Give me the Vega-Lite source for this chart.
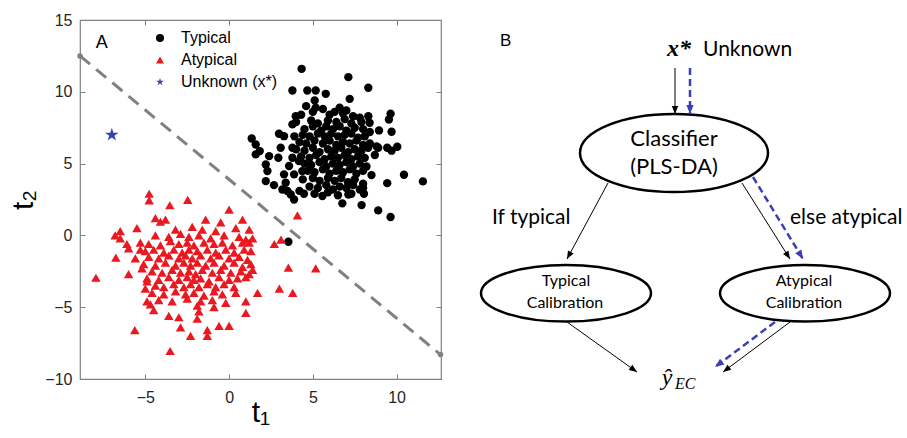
{
 "$schema": "https://vega.github.io/schema/vega-lite/v6.json",
 "background": "white",
 "padding": {"left": 8, "top": 11, "right": 0, "bottom": 0},
 "spacing": 12,
 "config": {"font": "Liberation Sans", "view": {"stroke": "#808080", "strokeWidth": 1.2}},
 "datasets": {
  "pts": [
   {"t1":4.33,"t2":11.6,"c":"Typical"},{"t1":7.12,"t2":11.02,"c":"Typical"},{"t1":8.31,"t2":10.28,"c":"Typical"},{"t1":3.78,"t2":10.09,"c":"Typical"},{"t1":4.67,"t2":10.09,"c":"Typical"},{"t1":5.17,"t2":10.09,"c":"Typical"},{"t1":5.77,"t2":9.86,"c":"Typical"},{"t1":5.11,"t2":9.4,"c":"Typical"},{"t1":5.17,"t2":8.9,"c":"Typical"},{"t1":7.2,"t2":9.51,"c":"Typical"},{"t1":3.98,"t2":8.3,"c":"Typical"},{"t1":3.78,"t2":7.73,"c":"Typical"},{"t1":9.64,"t2":8.47,"c":"Typical"},{"t1":9.54,"t2":8.07,"c":"Typical"},{"t1":8.31,"t2":8.3,"c":"Typical"},{"t1":8.39,"t2":7.84,"c":"Typical"},{"t1":8.95,"t2":7.31,"c":"Typical"},{"t1":9.7,"t2":7.22,"c":"Typical"},{"t1":10.04,"t2":6.17,"c":"Typical"},{"t1":9.44,"t2":6.1,"c":"Typical"},{"t1":9.7,"t2":5.9,"c":"Typical"},{"t1":8.9,"t2":6.1,"c":"Typical"},{"t1":8.7,"t2":5.6,"c":"Typical"},{"t1":10.44,"t2":4.22,"c":"Typical"},{"t1":11.57,"t2":3.76,"c":"Typical"},{"t1":9.44,"t2":3.64,"c":"Typical"},{"t1":8.9,"t2":1.74,"c":"Typical"},{"t1":9.64,"t2":1.28,"c":"Typical"},{"t1":7.91,"t2":2.11,"c":"Typical"},{"t1":6.76,"t2":2.23,"c":"Typical"},{"t1":5.57,"t2":2.74,"c":"Typical"},{"t1":7.12,"t2":2.85,"c":"Typical"},{"t1":4.47,"t2":2.9,"c":"Typical"},{"t1":3.88,"t2":2.5,"c":"Typical"},{"t1":8.05,"t2":2.9,"c":"Typical"},{"t1":8.5,"t2":4.2,"c":"Typical"},{"t1":8.0,"t2":3.3,"c":"Typical"},{"t1":3.54,"t2":-0.44,"c":"Typical"},{"t1":1.35,"t2":6.75,"c":"Typical"},{"t1":1.59,"t2":6.33,"c":"Typical"},{"t1":1.83,"t2":5.87,"c":"Typical"},{"t1":1.59,"t2":5.64,"c":"Typical"},{"t1":2.39,"t2":5.52,"c":"Typical"},{"t1":2.94,"t2":5.41,"c":"Typical"},{"t1":2.98,"t2":7.08,"c":"Typical"},{"t1":3.28,"t2":6.91,"c":"Typical"},{"t1":3.08,"t2":6.1,"c":"Typical"},{"t1":3.78,"t2":6.1,"c":"Typical"},{"t1":3.78,"t2":5.41,"c":"Typical"},{"t1":3.58,"t2":4.83,"c":"Typical"},{"t1":2.19,"t2":4.94,"c":"Typical"},{"t1":2.29,"t2":4.48,"c":"Typical"},{"t1":2.19,"t2":3.78,"c":"Typical"},{"t1":2.68,"t2":3.5,"c":"Typical"},{"t1":3.28,"t2":4.25,"c":"Typical"},{"t1":3.38,"t2":3.67,"c":"Typical"},{"t1":3.18,"t2":3.2,"c":"Typical"},{"t1":3.48,"t2":3.09,"c":"Typical"},{"t1":3.68,"t2":2.85,"c":"Typical"},{"t1":3.88,"t2":4.25,"c":"Typical"},{"t1":4.37,"t2":4.48,"c":"Typical"},{"t1":4.17,"t2":5.17,"c":"Typical"},
   {"t1":4.6,"t2":9.0,"c":"Typical"},{"t1":5.6,"t2":8.8,"c":"Typical"},{"t1":6.6,"t2":8.9,"c":"Typical"},{"t1":7.0,"t2":8.7,"c":"Typical"},{"t1":6.3,"t2":8.6,"c":"Typical"},
   {"t1":4.3,"t2":8.4,"c":"Typical"},{"t1":5.0,"t2":8.6,"c":"Typical"},{"t1":6.0,"t2":8.4,"c":"Typical"},{"t1":6.8,"t2":8.5,"c":"Typical"},{"t1":7.4,"t2":8.3,"c":"Typical"},{"t1":7.8,"t2":8.2,"c":"Typical"},
   {"t1":4.0,"t2":7.9,"c":"Typical"},{"t1":4.9,"t2":8.0,"c":"Typical"},{"t1":5.3,"t2":7.8,"c":"Typical"},{"t1":5.9,"t2":8.0,"c":"Typical"},{"t1":6.4,"t2":7.9,"c":"Typical"},{"t1":6.9,"t2":8.1,"c":"Typical"},{"t1":7.3,"t2":7.8,"c":"Typical"},{"t1":7.9,"t2":7.9,"c":"Typical"},
   {"t1":4.5,"t2":7.4,"c":"Typical"},{"t1":5.0,"t2":7.6,"c":"Typical"},{"t1":5.5,"t2":7.3,"c":"Typical"},{"t1":5.8,"t2":7.6,"c":"Typical"},{"t1":6.2,"t2":7.4,"c":"Typical"},{"t1":6.6,"t2":7.6,"c":"Typical"},{"t1":7.0,"t2":7.3,"c":"Typical"},{"t1":7.5,"t2":7.5,"c":"Typical"},{"t1":8.0,"t2":7.4,"c":"Typical"},{"t1":8.4,"t2":7.2,"c":"Typical"},
   {"t1":3.9,"t2":6.9,"c":"Typical"},{"t1":4.4,"t2":7.0,"c":"Typical"},{"t1":4.8,"t2":6.9,"c":"Typical"},{"t1":5.3,"t2":7.1,"c":"Typical"},{"t1":5.7,"t2":6.9,"c":"Typical"},{"t1":6.1,"t2":7.1,"c":"Typical"},{"t1":6.5,"t2":6.9,"c":"Typical"},{"t1":6.9,"t2":7.0,"c":"Typical"},{"t1":7.3,"t2":7.1,"c":"Typical"},{"t1":7.7,"t2":6.8,"c":"Typical"},{"t1":8.1,"t2":6.9,"c":"Typical"},
   {"t1":4.2,"t2":6.5,"c":"Typical"},{"t1":4.6,"t2":6.4,"c":"Typical"},{"t1":5.1,"t2":6.6,"c":"Typical"},{"t1":5.6,"t2":6.4,"c":"Typical"},{"t1":6.0,"t2":6.6,"c":"Typical"},{"t1":6.4,"t2":6.3,"c":"Typical"},{"t1":6.8,"t2":6.5,"c":"Typical"},{"t1":7.2,"t2":6.4,"c":"Typical"},{"t1":7.6,"t2":6.6,"c":"Typical"},{"t1":8.0,"t2":6.3,"c":"Typical"},{"t1":8.4,"t2":6.4,"c":"Typical"},{"t1":8.8,"t2":6.2,"c":"Typical"},
   {"t1":4.0,"t2":6.0,"c":"Typical"},{"t1":4.5,"t2":5.9,"c":"Typical"},{"t1":5.0,"t2":6.1,"c":"Typical"},{"t1":5.4,"t2":5.8,"c":"Typical"},{"t1":5.9,"t2":6.0,"c":"Typical"},{"t1":6.3,"t2":5.9,"c":"Typical"},{"t1":6.7,"t2":6.1,"c":"Typical"},{"t1":7.1,"t2":5.8,"c":"Typical"},{"t1":7.5,"t2":6.0,"c":"Typical"},{"t1":7.9,"t2":5.9,"c":"Typical"},{"t1":8.3,"t2":6.1,"c":"Typical"},
   {"t1":4.3,"t2":5.5,"c":"Typical"},{"t1":4.8,"t2":5.4,"c":"Typical"},{"t1":5.2,"t2":5.6,"c":"Typical"},{"t1":5.7,"t2":5.3,"c":"Typical"},{"t1":6.1,"t2":5.5,"c":"Typical"},{"t1":6.5,"t2":5.4,"c":"Typical"},{"t1":6.9,"t2":5.6,"c":"Typical"},{"t1":7.3,"t2":5.3,"c":"Typical"},{"t1":7.7,"t2":5.5,"c":"Typical"},{"t1":8.1,"t2":5.4,"c":"Typical"},
   {"t1":4.5,"t2":5.0,"c":"Typical"},{"t1":4.9,"t2":4.9,"c":"Typical"},{"t1":5.4,"t2":5.1,"c":"Typical"},{"t1":5.8,"t2":4.8,"c":"Typical"},{"t1":6.2,"t2":5.0,"c":"Typical"},{"t1":6.6,"t2":4.9,"c":"Typical"},{"t1":7.0,"t2":5.1,"c":"Typical"},{"t1":7.4,"t2":4.8,"c":"Typical"},{"t1":7.8,"t2":5.0,"c":"Typical"},{"t1":8.2,"t2":4.8,"c":"Typical"},
   {"t1":4.7,"t2":4.5,"c":"Typical"},{"t1":5.1,"t2":4.4,"c":"Typical"},{"t1":5.6,"t2":4.6,"c":"Typical"},{"t1":6.0,"t2":4.3,"c":"Typical"},{"t1":6.4,"t2":4.5,"c":"Typical"},{"t1":6.8,"t2":4.4,"c":"Typical"},{"t1":7.2,"t2":4.6,"c":"Typical"},{"t1":7.6,"t2":4.3,"c":"Typical"},{"t1":8.0,"t2":4.5,"c":"Typical"},
   {"t1":4.4,"t2":3.9,"c":"Typical"},{"t1":5.0,"t2":4.0,"c":"Typical"},{"t1":5.4,"t2":3.8,"c":"Typical"},{"t1":5.9,"t2":4.0,"c":"Typical"},{"t1":6.3,"t2":3.8,"c":"Typical"},{"t1":6.7,"t2":4.0,"c":"Typical"},{"t1":7.1,"t2":3.7,"c":"Typical"},{"t1":7.5,"t2":3.9,"c":"Typical"},{"t1":8.0,"t2":3.6,"c":"Typical"},
   {"t1":4.8,"t2":3.4,"c":"Typical"},{"t1":5.3,"t2":3.3,"c":"Typical"},{"t1":5.8,"t2":3.5,"c":"Typical"},{"t1":6.2,"t2":3.2,"c":"Typical"},{"t1":6.6,"t2":3.4,"c":"Typical"},{"t1":7.0,"t2":3.3,"c":"Typical"},{"t1":7.4,"t2":3.5,"c":"Typical"},{"t1":7.8,"t2":3.2,"c":"Typical"},
   {"t1":4.2,"t2":3.1,"c":"Typical"},{"t1":5.1,"t2":2.9,"c":"Typical"},{"t1":5.9,"t2":3.0,"c":"Typical"},{"t1":6.5,"t2":2.8,"c":"Typical"},{"t1":7.3,"t2":2.9,"c":"Typical"},
   {"t1":-7.95,"t2":-2.95,"c":"Atypical"},{"t1":-4.77,"t2":2.9,"c":"Atypical"},{"t1":-4.77,"t2":2.44,"c":"Atypical"},{"t1":-3.54,"t2":2.1,"c":"Atypical"},{"t1":-2.47,"t2":2.48,"c":"Atypical"},{"t1":0.0,"t2":1.8,"c":"Atypical"},{"t1":4.08,"t2":1.39,"c":"Atypical"},{"t1":-4.4,"t2":1.2,"c":"Atypical"},{"t1":-4.1,"t2":0.95,"c":"Atypical"},{"t1":-3.8,"t2":1.1,"c":"Atypical"},{"t1":-1.4,"t2":1.1,"c":"Atypical"},{"t1":-6.5,"t2":0.3,"c":"Atypical"},{"t1":-6.8,"t2":0.0,"c":"Atypical"},{"t1":-6.5,"t2":-0.2,"c":"Atypical"},{"t1":-5.5,"t2":0.5,"c":"Atypical"},{"t1":-6.1,"t2":-0.6,"c":"Atypical"},{"t1":-6.0,"t2":-0.9,"c":"Atypical"},{"t1":-1.6,"t2":0.4,"c":"Atypical"},{"t1":0.8,"t2":1.1,"c":"Atypical"},{"t1":1.2,"t2":0.4,"c":"Atypical"},{"t1":1.4,"t2":-0.2,"c":"Atypical"},{"t1":1.2,"t2":-0.5,"c":"Atypical"},{"t1":2.7,"t2":-0.6,"c":"Atypical"},{"t1":3.1,"t2":-0.3,"c":"Atypical"},{"t1":-6.76,"t2":-1.55,"c":"Atypical"},{"t1":-5.6,"t2":-1.6,"c":"Atypical"},{"t1":-5.2,"t2":-2.3,"c":"Atypical"},{"t1":-6.0,"t2":-2.7,"c":"Atypical"},{"t1":3.54,"t2":-2.25,"c":"Atypical"},{"t1":5.17,"t2":-2.3,"c":"Atypical"},{"t1":3.0,"t2":-3.7,"c":"Atypical"},{"t1":3.8,"t2":-4.0,"c":"Atypical"},{"t1":1.7,"t2":-4.0,"c":"Atypical"},{"t1":1.0,"t2":-4.6,"c":"Atypical"},{"t1":1.0,"t2":-5.4,"c":"Atypical"},{"t1":-5.63,"t2":-6.59,"c":"Atypical"},{"t1":-3.52,"t2":-8.05,"c":"Atypical"},{"t1":-2.3,"t2":-7.0,"c":"Atypical"},{"t1":-1.3,"t2":-7.0,"c":"Atypical"},{"t1":-1.3,"t2":-6.6,"c":"Atypical"},{"t1":-0.6,"t2":-6.3,"c":"Atypical"},{"t1":0.0,"t2":-6.3,"c":"Atypical"},{"t1":-2.9,"t2":-6.4,"c":"Atypical"},{"t1":-3.0,"t2":-5.7,"c":"Atypical"},{"t1":-3.6,"t2":-5.6,"c":"Atypical"},{"t1":-1.9,"t2":-5.8,"c":"Atypical"},{"t1":-1.8,"t2":-5.3,"c":"Atypical"},{"t1":-1.9,"t2":-4.9,"c":"Atypical"},{"t1":-0.9,"t2":-5.0,"c":"Atypical"},{"t1":-4.5,"t2":-5.2,"c":"Atypical"},{"t1":-4.7,"t2":-4.8,"c":"Atypical"},{"t1":-4.9,"t2":-4.6,"c":"Atypical"},{"t1":-5.0,"t2":-3.7,"c":"Atypical"},{"t1":-4.9,"t2":-3.2,"c":"Atypical"},{"t1":1.4,"t2":-2.4,"c":"Atypical"},{"t1":1.0,"t2":-2.9,"c":"Atypical"},{"t1":-5.3,"t2":-1.0,"c":"Atypical"},{"t1":-0.5,"t2":0.9,"c":"Atypical"},
   {"t1":-3.2,"t2":0.4,"c":"Atypical"},{"t1":-2.2,"t2":0.6,"c":"Atypical"},{"t1":-0.8,"t2":0.3,"c":"Atypical"},{"t1":0.4,"t2":0.5,"c":"Atypical"},
   {"t1":-4.4,"t2":0.0,"c":"Atypical"},{"t1":-3.6,"t2":-0.1,"c":"Atypical"},{"t1":-2.9,"t2":0.1,"c":"Atypical"},{"t1":-2.4,"t2":-0.1,"c":"Atypical"},{"t1":-1.8,"t2":0.0,"c":"Atypical"},{"t1":-1.1,"t2":-0.2,"c":"Atypical"},{"t1":-0.3,"t2":0.0,"c":"Atypical"},{"t1":0.6,"t2":-0.1,"c":"Atypical"},{"t1":1.0,"t2":-0.3,"c":"Atypical"},
   {"t1":-5.3,"t2":-0.5,"c":"Atypical"},{"t1":-4.8,"t2":-0.6,"c":"Atypical"},{"t1":-4.1,"t2":-0.7,"c":"Atypical"},{"t1":-3.5,"t2":-0.4,"c":"Atypical"},{"t1":-3.0,"t2":-0.6,"c":"Atypical"},{"t1":-2.5,"t2":-0.5,"c":"Atypical"},{"t1":-2.1,"t2":-0.7,"c":"Atypical"},{"t1":-1.5,"t2":-0.5,"c":"Atypical"},{"t1":-0.9,"t2":-0.6,"c":"Atypical"},{"t1":-0.4,"t2":-0.5,"c":"Atypical"},{"t1":0.2,"t2":-0.7,"c":"Atypical"},{"t1":0.8,"t2":-0.5,"c":"Atypical"},
   {"t1":-5.0,"t2":-1.1,"c":"Atypical"},{"t1":-4.5,"t2":-1.0,"c":"Atypical"},{"t1":-3.9,"t2":-1.2,"c":"Atypical"},{"t1":-3.3,"t2":-1.0,"c":"Atypical"},{"t1":-2.8,"t2":-1.2,"c":"Atypical"},{"t1":-2.4,"t2":-1.0,"c":"Atypical"},{"t1":-1.9,"t2":-1.1,"c":"Atypical"},{"t1":-1.3,"t2":-1.0,"c":"Atypical"},{"t1":-0.8,"t2":-1.2,"c":"Atypical"},{"t1":-0.2,"t2":-1.0,"c":"Atypical"},{"t1":0.3,"t2":-1.2,"c":"Atypical"},{"t1":0.9,"t2":-1.0,"c":"Atypical"},{"t1":1.3,"t2":-1.1,"c":"Atypical"},
   {"t1":-4.8,"t2":-1.5,"c":"Atypical"},{"t1":-4.2,"t2":-1.6,"c":"Atypical"},{"t1":-3.6,"t2":-1.4,"c":"Atypical"},{"t1":-3.0,"t2":-1.6,"c":"Atypical"},{"t1":-2.6,"t2":-1.4,"c":"Atypical"},{"t1":-2.2,"t2":-1.6,"c":"Atypical"},{"t1":-1.7,"t2":-1.4,"c":"Atypical"},{"t1":-1.1,"t2":-1.6,"c":"Atypical"},{"t1":-0.6,"t2":-1.4,"c":"Atypical"},{"t1":0.0,"t2":-1.6,"c":"Atypical"},{"t1":0.6,"t2":-1.5,"c":"Atypical"},{"t1":1.1,"t2":-1.7,"c":"Atypical"},
   {"t1":-5.1,"t2":-2.0,"c":"Atypical"},{"t1":-4.4,"t2":-2.1,"c":"Atypical"},{"t1":-3.8,"t2":-1.9,"c":"Atypical"},{"t1":-3.2,"t2":-2.1,"c":"Atypical"},{"t1":-2.7,"t2":-1.9,"c":"Atypical"},{"t1":-2.3,"t2":-2.1,"c":"Atypical"},{"t1":-1.9,"t2":-1.9,"c":"Atypical"},{"t1":-1.4,"t2":-2.1,"c":"Atypical"},{"t1":-0.9,"t2":-1.9,"c":"Atypical"},{"t1":-0.3,"t2":-2.1,"c":"Atypical"},{"t1":0.3,"t2":-1.9,"c":"Atypical"},{"t1":0.8,"t2":-2.2,"c":"Atypical"},{"t1":1.3,"t2":-2.0,"c":"Atypical"},
   {"t1":-4.6,"t2":-2.5,"c":"Atypical"},{"t1":-4.0,"t2":-2.6,"c":"Atypical"},{"t1":-3.4,"t2":-2.4,"c":"Atypical"},{"t1":-2.9,"t2":-2.6,"c":"Atypical"},{"t1":-2.4,"t2":-2.5,"c":"Atypical"},{"t1":-2.0,"t2":-2.7,"c":"Atypical"},{"t1":-1.6,"t2":-2.4,"c":"Atypical"},{"t1":-1.0,"t2":-2.6,"c":"Atypical"},{"t1":-0.5,"t2":-2.4,"c":"Atypical"},{"t1":0.1,"t2":-2.6,"c":"Atypical"},{"t1":0.7,"t2":-2.5,"c":"Atypical"},{"t1":1.2,"t2":-2.7,"c":"Atypical"},
   {"t1":-4.9,"t2":-3.0,"c":"Atypical"},{"t1":-4.2,"t2":-3.1,"c":"Atypical"},{"t1":-3.6,"t2":-2.9,"c":"Atypical"},{"t1":-3.0,"t2":-3.1,"c":"Atypical"},{"t1":-2.5,"t2":-2.9,"c":"Atypical"},{"t1":-2.1,"t2":-3.1,"c":"Atypical"},{"t1":-1.7,"t2":-3.0,"c":"Atypical"},{"t1":-1.2,"t2":-3.2,"c":"Atypical"},{"t1":-0.6,"t2":-2.9,"c":"Atypical"},{"t1":0.0,"t2":-3.1,"c":"Atypical"},{"t1":0.5,"t2":-3.0,"c":"Atypical"},
   {"t1":-4.4,"t2":-3.5,"c":"Atypical"},{"t1":-3.9,"t2":-3.6,"c":"Atypical"},{"t1":-3.3,"t2":-3.4,"c":"Atypical"},{"t1":-2.7,"t2":-3.6,"c":"Atypical"},{"t1":-2.3,"t2":-3.4,"c":"Atypical"},{"t1":-1.8,"t2":-3.6,"c":"Atypical"},{"t1":-1.3,"t2":-3.4,"c":"Atypical"},{"t1":-0.8,"t2":-3.6,"c":"Atypical"},{"t1":-0.3,"t2":-3.4,"c":"Atypical"},{"t1":0.3,"t2":-3.6,"c":"Atypical"},
   {"t1":-4.6,"t2":-4.0,"c":"Atypical"},{"t1":-3.9,"t2":-4.1,"c":"Atypical"},{"t1":-3.2,"t2":-3.9,"c":"Atypical"},{"t1":-2.6,"t2":-4.1,"c":"Atypical"},{"t1":-2.1,"t2":-4.0,"c":"Atypical"},{"t1":-1.5,"t2":-4.2,"c":"Atypical"},{"t1":-0.9,"t2":-3.9,"c":"Atypical"},{"t1":-0.4,"t2":-4.1,"c":"Atypical"},{"t1":0.4,"t2":-4.0,"c":"Atypical"},
   {"t1":-4.2,"t2":-4.5,"c":"Atypical"},{"t1":-3.4,"t2":-4.6,"c":"Atypical"},{"t1":-2.5,"t2":-4.4,"c":"Atypical"},{"t1":-1.7,"t2":-4.6,"c":"Atypical"},{"t1":-1.0,"t2":-4.5,"c":"Atypical"},{"t1":-0.2,"t2":-4.7,"c":"Atypical"},
   {"t1":-7.0,"t2":7.0,"c":"Unknown (x*)"}
  ],
  "arrows": [
   {"x1":675,"y1":67,"x2":675,"y2":113,"kind":"path"},
   {"x1":690,"y1":67,"x2":690,"y2":113,"kind":"unknown"},
   {"x1":608,"y1":182,"x2":567,"y2":258,"kind":"path"},
   {"x1":742,"y1":182,"x2":790,"y2":258,"kind":"path"},
   {"x1":753,"y1":176,"x2":803,"y2":258,"kind":"unknown"},
   {"x1":567,"y1":321,"x2":637,"y2":371,"kind":"path"},
   {"x1":790,"y1":321,"x2":723,"y2":371,"kind":"path"},
   {"x1":775,"y1":321,"x2":715,"y2":366,"kind":"unknown"}
  ]
 },
 "hconcat": [
  {
   "width": 361,
   "height": 359,
   "encoding": {
    "color": {"field": "c", "type": "nominal",
              "scale": {"domain": ["Typical", "Atypical", "Unknown (x*)"], "range": ["#000000", "#ea1820", "#3542a8"]},
              "legend": {"orient": "none", "legendX": 72, "legendY": 10, "title": null, "padding": 0, "labelFontSize": 16, "labelColor": "#000000", "labelOffset": 13, "rowPadding": 6, "symbolSize": 64, "symbolStrokeWidth": 0}},
    "shape": {"field": "c", "type": "nominal",
              "scale": {"domain": ["Typical", "Atypical", "Unknown (x*)"], "range": ["circle", "triangle-up", "M0,-1L0.2245,-0.309L0.951,-0.309L0.3633,0.118L0.588,0.809L0,0.382L-0.588,0.809L-0.3633,0.118L-0.951,-0.309L-0.2245,-0.309Z"]},
              "legend": {"orient": "none", "legendX": 72, "legendY": 10, "title": null, "padding": 0, "labelFontSize": 16, "labelColor": "#000000", "labelOffset": 13, "rowPadding": 6, "symbolSize": 64, "symbolStrokeWidth": 0}}
   },
   "layer": [
    {
     "data": {"values": [{"t1": -8.9, "t2": 12.5}, {"t1": 12.62, "t2": -8.3}]},
     "mark": {"type": "line", "color": "#808080", "strokeWidth": 3, "strokeDash": [13, 8]},
     "encoding": {
      "x": {"field": "t1", "type": "quantitative", "scale": {"domain": [-8.9, 12.65], "nice": false, "zero": false},
            "axis": {"orient": "top", "labels": false, "title": null, "values": [-5, 0, 5, 10], "tickSize": -5, "tickColor": "#808080", "domain": false, "grid": false}},
      "y": {"field": "t2", "type": "quantitative", "scale": {"domain": [-10, 15], "nice": false, "zero": false},
            "axis": {"orient": "right", "labels": false, "title": null, "values": [-10, -5, 0, 5, 10, 15], "tickSize": -5, "tickColor": "#808080", "domain": false, "grid": false}},
      "color": {"value": "#808080"},
      "shape": {"value": "circle"}
     }
    },
    {
     "data": {"name": "pts"},
     "transform": [{"filter": "datum.c === 'Typical'"}],
     "mark": {"type": "point", "filled": true, "opacity": 1, "size": 70},
     "encoding": {
      "x": {"field": "t1", "type": "quantitative", "title": "t₁",
            "axis": {"orient": "bottom", "values": [-5, 0, 5, 10], "tickSize": -5, "tickColor": "#808080", "domain": false, "grid": false, "labelFontSize": 16, "labelColor": "#262626", "labelPadding": 15, "titleFontSize": 30, "titleFontWeight": "normal", "titleColor": "#000000", "titlePadding": -8}},
      "y": {"field": "t2", "type": "quantitative", "title": "t₂",
            "axis": {"orient": "left", "values": [-10, -5, 0, 5, 10, 15], "tickSize": -5, "tickColor": "#808080", "domain": false, "grid": false, "labelFontSize": 16, "labelColor": "#262626", "labelPadding": 13, "titleFontSize": 30, "titleFontWeight": "normal", "titleColor": "#000000", "titlePadding": 6}}
     }
    },
    {
     "data": {"name": "pts"},
     "transform": [{"filter": "datum.c === 'Atypical'"}],
     "mark": {"type": "point", "filled": true, "opacity": 1, "size": 90},
     "encoding": {
      "x": {"field": "t1", "type": "quantitative", "axis": null},
      "y": {"field": "t2", "type": "quantitative", "axis": null}
     }
    },
    {
     "data": {"name": "pts"},
     "transform": [{"filter": "datum.c === 'Unknown (x*)'"}],
     "mark": {"type": "point", "filled": true, "opacity": 1, "size": 200},
     "encoding": {
      "x": {"field": "t1", "type": "quantitative", "axis": null},
      "y": {"field": "t2", "type": "quantitative", "axis": null}
     }
    },
    {
     "data": {"values": [{"label": "A"}]},
     "mark": {"type": "text", "fontSize": 18, "baseline": "alphabetic", "align": "center"},
     "encoding": {
      "x": {"datum": -7.6, "type": "quantitative", "axis": null},
      "y": {"datum": 13.06, "type": "quantitative", "axis": null},
      "text": {"field": "label"},
      "color": {"value": "#000000"},
      "shape": {"value": "circle"}
     }
    }
   ],
   "resolve": {"axis": {"x": "independent", "y": "independent"}}
  },
  {
   "width": 445,
   "height": 359,
   "view": {"stroke": null},
   "layer": [
    {
     "data": {"values": [{"node": "Classifier (PLS-DA)", "x": 674, "y": 152}]},
     "mark": {"type": "point", "filled": true, "fill": "white", "stroke": "#000000", "strokeWidth": 2.5, "opacity": 1, "size": 35344,
              "shape": "M-1,0C-1,-0.2292,-0.5523,-0.415,0,-0.415C0.5523,-0.415,1,-0.2292,1,0C1,0.2292,0.5523,0.415,0,0.415C-0.5523,0.415,-1,0.2292,-1,0Z"},
     "encoding": {
      "x": {"field": "x", "type": "quantitative", "scale": {"domain": [460, 905], "nice": false, "zero": false}, "axis": null},
      "y": {"field": "y", "type": "quantitative", "scale": {"domain": [19, 378], "nice": false, "zero": false, "reverse": true}, "axis": null}
     }
    },
    {
     "data": {"values": [{"node": "Typical Calibration", "x": 566, "y": 292.3}, {"node": "Atypical Calibration", "x": 805, "y": 292.3}]},
     "mark": {"type": "point", "filled": true, "fill": "white", "stroke": "#000000", "strokeWidth": 2.5, "opacity": 1, "size": 28900,
              "shape": "M-1,0C-1,-0.1839,-0.5523,-0.333,0,-0.333C0.5523,-0.333,1,-0.1839,1,0C1,0.1839,0.5523,0.333,0,0.333C-0.5523,0.333,-1,0.1839,-1,0Z"},
     "encoding": {
      "x": {"field": "x", "type": "quantitative"},
      "y": {"field": "y", "type": "quantitative"}
     }
    },
    {
     "data": {"name": "arrows"},
     "transform": [{"filter": "datum.kind === 'path'"}],
     "mark": {"type": "rule", "color": "#000000", "strokeWidth": 1},
     "encoding": {
      "x": {"field": "x1", "type": "quantitative"},
      "y": {"field": "y1", "type": "quantitative"},
      "x2": {"field": "x2"},
      "y2": {"field": "y2"}
     }
    },
    {
     "data": {"name": "arrows"},
     "transform": [{"filter": "datum.kind === 'unknown'"}],
     "mark": {"type": "rule", "color": "#3a3fb5", "strokeWidth": 2.5, "strokeDash": [7, 4]},
     "encoding": {
      "x": {"field": "x1", "type": "quantitative"},
      "y": {"field": "y1", "type": "quantitative"},
      "x2": {"field": "x2"},
      "y2": {"field": "y2"}
     }
    },
    {
     "data": {"name": "arrows"},
     "transform": [{"filter": "datum.kind === 'path'"}, {"calculate": "atan2(datum.x2 - datum.x1, datum.y1 - datum.y2) * 180 / PI", "as": "ang"}],
     "mark": {"type": "point", "filled": true, "opacity": 1, "color": "#000000", "size": 256, "shape": "M0,0L-0.4,1L0.4,1Z"},
     "encoding": {
      "x": {"field": "x2", "type": "quantitative"},
      "y": {"field": "y2", "type": "quantitative"},
      "angle": {"field": "ang", "type": "quantitative", "scale": null}
     }
    },
    {
     "data": {"name": "arrows"},
     "transform": [{"filter": "datum.kind === 'unknown'"}, {"calculate": "atan2(datum.x2 - datum.x1, datum.y1 - datum.y2) * 180 / PI", "as": "ang"}],
     "mark": {"type": "point", "filled": true, "opacity": 1, "color": "#3a3fb5", "size": 324, "shape": "M0,0L-0.4,1L0.4,1Z"},
     "encoding": {
      "x": {"field": "x2", "type": "quantitative"},
      "y": {"field": "y2", "type": "quantitative"},
      "angle": {"field": "ang", "type": "quantitative", "scale": null}
     }
    },
    {
     "data": {"values": [{"t": "Classifier", "x": 674, "y": 145}, {"t": "(PLS-DA)", "x": 674, "y": 173}]},
     "mark": {"type": "text", "font": "Lato", "fontSize": 22, "align": "center", "baseline": "alphabetic", "color": "#000000"},
     "encoding": {"x": {"field": "x", "type": "quantitative"}, "y": {"field": "y", "type": "quantitative"}, "text": {"field": "t"}}
    },
    {
     "data": {"values": [{"t": "If typical", "x": 492, "y": 222.5}, {"t": "else atypical", "x": 790, "y": 222.5}, {"t": "Unknown", "x": 703, "y": 55}]},
     "mark": {"type": "text", "font": "Lato", "fontSize": 21, "align": "left", "baseline": "alphabetic", "color": "#000000"},
     "encoding": {"x": {"field": "x", "type": "quantitative"}, "y": {"field": "y", "type": "quantitative"}, "text": {"field": "t"}}
    },
    {
     "data": {"values": [{"t": "Typical", "x": 566, "y": 285}, {"t": "Calibration", "x": 565, "y": 306.5}, {"t": "Atypical", "x": 804, "y": 285}, {"t": "Calibration", "x": 804, "y": 306.5}]},
     "mark": {"type": "text", "font": "Lato", "fontSize": 16, "align": "center", "baseline": "alphabetic", "color": "#000000"},
     "encoding": {"x": {"field": "x", "type": "quantitative"}, "y": {"field": "y", "type": "quantitative"}, "text": {"field": "t"}}
    },
    {
     "data": {"values": [{"t": "B", "x": 500, "y": 45}]},
     "mark": {"type": "text", "font": "Liberation Sans", "fontSize": 17, "align": "left", "baseline": "alphabetic", "color": "#000000"},
     "encoding": {"x": {"field": "x", "type": "quantitative"}, "y": {"field": "y", "type": "quantitative"}, "text": {"field": "t"}}
    },
    {
     "data": {"values": [{"t": "x*", "x": 691, "y": 55}]},
     "mark": {"type": "text", "font": "Liberation Serif", "fontSize": 24, "fontStyle": "italic", "fontWeight": "bold", "align": "right", "baseline": "alphabetic", "color": "#000000"},
     "encoding": {"x": {"field": "x", "type": "quantitative"}, "y": {"field": "y", "type": "quantitative"}, "text": {"field": "t"}}
    },
    {
     "data": {"values": [{"t": "ŷ", "x": 667, "y": 384}]},
     "mark": {"type": "text", "font": "Liberation Serif", "fontSize": 24, "fontStyle": "italic", "align": "center", "baseline": "alphabetic", "color": "#000000"},
     "encoding": {"x": {"field": "x", "type": "quantitative"}, "y": {"field": "y", "type": "quantitative"}, "text": {"field": "t"}}
    },
    {
     "data": {"values": [{"t": "EC", "x": 675, "y": 388}]},
     "mark": {"type": "text", "font": "Liberation Serif", "fontSize": 16, "fontStyle": "italic", "align": "left", "baseline": "alphabetic", "color": "#000000"},
     "encoding": {"x": {"field": "x", "type": "quantitative"}, "y": {"field": "y", "type": "quantitative"}, "text": {"field": "t"}}
    }
   ]
  }
 ]
}
